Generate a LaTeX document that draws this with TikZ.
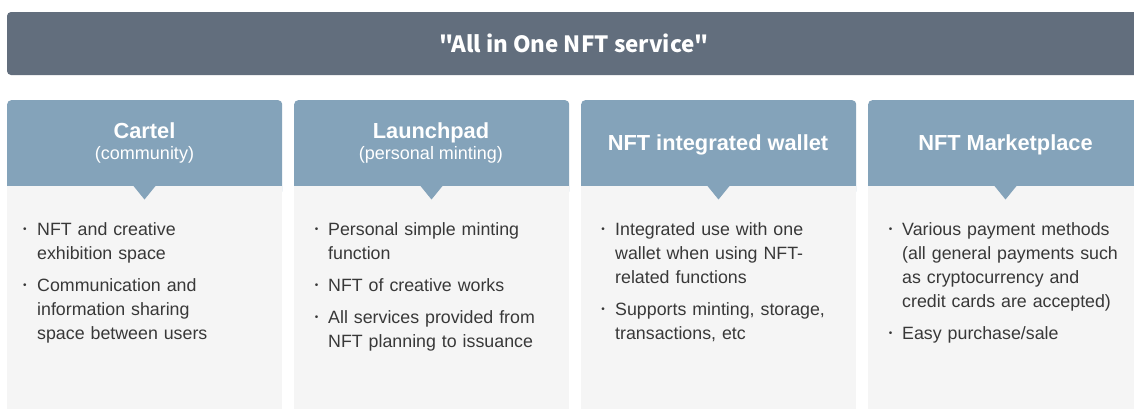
\documentclass[tikz,border=0pt]{standalone}
\usepackage{fontspec}
\setmainfont{Liberation Sans}
\newfontfamily\titlefont{Noto Sans CJK KR}
\definecolor{bannerc}{HTML}{626E7D}
\definecolor{headc}{HTML}{84A3BA}
\definecolor{panelc}{HTML}{F5F5F5}
\definecolor{textc}{HTML}{383838}
\tikzset{
  banner/.style={fill=bannerc, rounded corners=4pt, minimum width=1134pt, minimum height=63pt, inner sep=0pt},
  titletext/.style={text=white, font=\titlefont\bfseries\fontsize{22.4}{28}\selectfont, inner sep=0pt},
  headbox/.style={fill=headc, rounded corners=4pt, minimum width=275pt, minimum height=95pt, inner sep=0pt},
  panelbox/.style={fill=panelc, minimum width=275pt, minimum height=240pt, inner sep=0pt},
  pointer/.style={fill=headc},
  headtitle/.style={text=white, font=\bfseries\fontsize{21.8}{26}\selectfont, inner sep=0pt, anchor=base},
  headsub/.style={text=white, font=\fontsize{18}{22}\selectfont, inner sep=0pt, anchor=base},
  bul/.style={text=textc, font=\fontsize{10}{10}\selectfont, inner sep=0pt, anchor=center},
  item/.style={text=textc, font=\fontsize{17.8}{24}\selectfont, inner sep=0pt, anchor=north west, text width=250pt, align=left},
}
\begin{document}
\begin{tikzpicture}[x=1pt,y=-1pt]
\useasboundingbox (0,0) rectangle (1134,408);
\clip (0,0) rectangle (1134,408);
\fill[white] (0,0) rectangle (1134,408);
% banner
\node[banner] (banner) at (574,43.5) {};
\node[titletext, anchor=base] (title) at (574,52) {"All in One NFT service"};
% columns
\foreach \L/\n in {7/1,294/2,581/3,868/4}{
  \node[headbox, anchor=north west] (h\n) at (\L,100) {};
  \node[panelbox, anchor=north west] (p\n) at (\L,186) {};
  \fill[pointer] (\L+126.5,186) -- (\L+148.5,186) -- (\L+137.5,199.5) -- cycle;
}
% header labels
\node[headtitle] (t1) at (144.5,138) {Cartel};
\node[headsub] (s1) at (144.5,159) {(community)};
\node[headtitle] (t2) at (431,138) {Launchpad};
\node[headsub] (s2) at (431,159) {(personal minting)};
\node[headtitle] (t3) at (718,150.7) {NFT integrated wallet};
\node[headtitle] (t4) at (1005.5,150.7) {NFT Marketplace};
% column 1
\node[bul] (b11) at (25,230) {•};
\node[item] (i11) at (37,218.2) {\strut NFT and creative\\exhibition space};
\node[bul] (b12) at (25,286) {•};
\node[item] (i12) at (37,274.2) {\strut Communication and\\information sharing\\space between users};
% column 2
\node[bul] (b21) at (316.7,230) {•};
\node[item] (i21) at (328,218.2) {\strut Personal simple minting\\function};
\node[bul] (b22) at (316.7,286) {•};
\node[item] (i22) at (328,274.2) {\strut NFT of creative works};
\node[bul] (b23) at (316.7,318) {•};
\node[item] (i23) at (328,306.2) {\strut All services provided from\\NFT planning to issuance};
% column 3
\node[bul] (b31) at (603,230) {•};
\node[item] (i31) at (615,218.2) {\strut Integrated use with one\\wallet when using NFT-\\related functions};
\node[bul] (b32) at (603,310) {•};
\node[item] (i32) at (615,298.2) {\strut Supports minting, storage,\\transactions, etc};
% column 4
\node[bul] (b41) at (890.7,230) {•};
\node[item] (i41) at (902,218.2) {\strut Various payment methods\\(all general payments such\\as cryptocurrency and\\credit cards are accepted)};
\node[bul] (b42) at (890.7,334) {•};
\node[item] (i42) at (902,322.2) {\strut Easy purchase/sale};
\end{tikzpicture}
\end{document}
